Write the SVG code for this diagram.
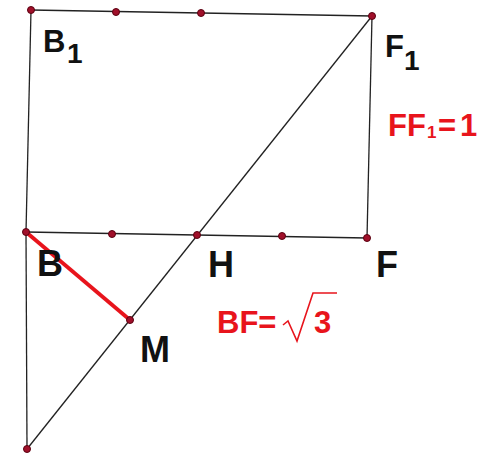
<svg xmlns="http://www.w3.org/2000/svg" width="502" height="455" viewBox="0 0 502 455">
<style>
.ln{stroke:#222;stroke-width:1.3;fill:none}
.pt{fill:#a0102a;stroke:#5a0010;stroke-width:1}
.lb{font-family:"Liberation Sans",Arial,sans-serif;font-weight:bold;fill:#111}
.rd{font-family:"Liberation Sans",Arial,sans-serif;font-weight:bold;fill:#e8141c}
</style>
<rect width="502" height="455" fill="#fff"/>
<g id="connectors">
<line class="ln" x1="31" y1="10" x2="372" y2="16"/>
<line class="ln" x1="26" y1="232" x2="367" y2="238"/>
<line class="ln" x1="31" y1="10" x2="26" y2="232"/>
<line class="ln" x1="26" y1="232" x2="27" y2="449"/>
<line class="ln" x1="372" y1="16" x2="367" y2="238"/>
<line class="ln" x1="372" y1="16" x2="27" y2="449"/>
<line x1="26" y1="232" x2="130" y2="320" stroke="#e8141c" stroke-width="3.8"/>
</g>
<g id="B1"><circle class="pt" cx="31" cy="10" r="3.5"/><text class="lb" x="43" y="52" font-size="31">B</text><text class="lb" x="67" y="63" font-size="28">1</text></g>
<g id="T1"><circle class="pt" cx="116" cy="12" r="3.5"/></g>
<g id="T2"><circle class="pt" cx="201" cy="13" r="3.5"/></g>
<g id="F1"><circle class="pt" cx="372" cy="16" r="3.5"/><text class="lb" x="385" y="57" font-size="31">F</text><text class="lb" x="404" y="70" font-size="28">1</text></g>
<g id="B"><circle class="pt" cx="26" cy="232" r="3.5"/><text class="lb" x="37" y="276" font-size="36">B</text></g>
<g id="D1"><circle class="pt" cx="112" cy="234" r="3.5"/></g>
<g id="H"><circle class="pt" cx="197" cy="235" r="3.5"/><text class="lb" x="208" y="277" font-size="36">H</text></g>
<g id="D2"><circle class="pt" cx="282" cy="236" r="3.5"/></g>
<g id="F"><circle class="pt" cx="367" cy="238" r="3.5"/><text class="lb" x="376" y="277" font-size="36">F</text></g>
<g id="M"><circle class="pt" cx="130" cy="320" r="3.5"/><text class="lb" x="140" y="362" font-size="36">M</text></g>
<g id="P"><circle class="pt" cx="27" cy="449" r="3.5"/></g>
<g id="FF1"><text class="rd" font-size="31" y="136"><tspan x="388">F</tspan><tspan x="407">F</tspan><tspan x="427" y="138" font-size="17">1</tspan><tspan x="438" y="136">=</tspan><tspan x="460">1</tspan></text></g>
<g id="BF"><text class="rd" font-size="31" x="217" y="333">BF=</text>
<polyline points="283,325 288,321 297,341 313,293 337,293" fill="none" stroke="#e8141c" stroke-width="1.6"/>
<text class="rd" font-size="31" x="314" y="333">3</text></g>
</svg>
